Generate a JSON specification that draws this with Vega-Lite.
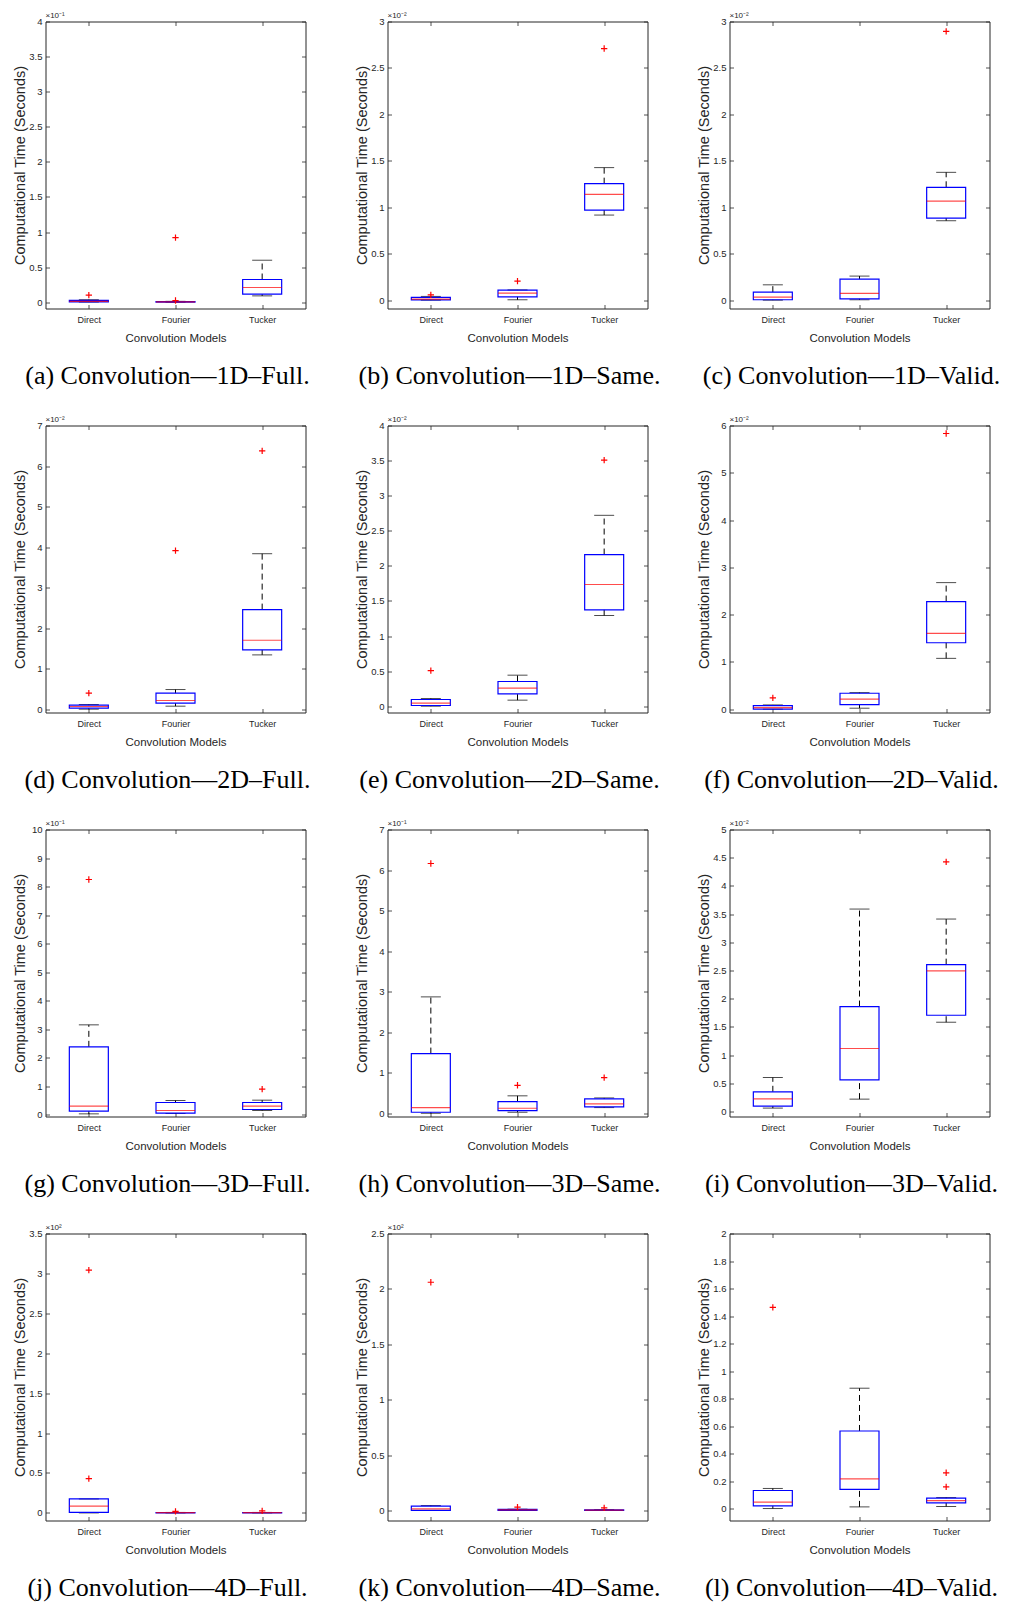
{
 "$schema": "https://vega.github.io/schema/vega-lite/v6.json",
 "padding": {"left": 11.5, "top": 10.5, "right": 5, "bottom": 2},
 "background": "white",
 "datasets": {
  "boxes": [
   {"panel":"a","model":"Direct","lo":0.002,"q1":0.005,"med":0.012,"q3":0.025,"hi":0.035},
   {"panel":"a","model":"Fourier","lo":0,"q1":0.002,"med":0.005,"q3":0.01,"hi":0.012},
   {"panel":"a","model":"Tucker","lo":0.09,"q1":0.114,"med":0.209,"q3":0.323,"hi":0.598},
   {"panel":"b","model":"Direct","lo":0,"q1":0.002,"med":0.01,"q3":0.03,"hi":0.04},
   {"panel":"b","model":"Fourier","lo":0.004,"q1":0.036,"med":0.075,"q3":0.108,"hi":0.11},
   {"panel":"b","model":"Tucker","lo":0.916,"q1":0.97,"med":1.139,"q3":1.254,"hi":1.427},
   {"panel":"c","model":"Direct","lo":0,"q1":0.004,"med":0.032,"q3":0.086,"hi":0.165},
   {"panel":"c","model":"Fourier","lo":0.004,"q1":0.014,"med":0.072,"q3":0.226,"hi":0.259},
   {"panel":"c","model":"Tucker","lo":0.855,"q1":0.884,"med":1.067,"q3":1.215,"hi":1.376},
   {"panel":"d","model":"Direct","lo":0.008,"q1":0.033,"med":0.074,"q3":0.107,"hi":0.123},
   {"panel":"d","model":"Fourier","lo":0.082,"q1":0.156,"med":0.222,"q3":0.402,"hi":0.492},
   {"panel":"d","model":"Tucker","lo":1.346,"q1":1.469,"med":1.707,"q3":2.462,"hi":3.84},
   {"panel":"e","model":"Direct","lo":0,"q1":0.01,"med":0.043,"q3":0.095,"hi":0.109},
   {"panel":"e","model":"Fourier","lo":0.086,"q1":0.176,"med":0.257,"q3":0.352,"hi":0.442},
   {"panel":"e","model":"Tucker","lo":1.292,"q1":1.373,"med":1.734,"q3":2.161,"hi":2.72},
   {"panel":"f","model":"Direct","lo":0,"q1":0.002,"med":0.035,"q3":0.077,"hi":0.09},
   {"panel":"f","model":"Fourier","lo":0.021,"q1":0.098,"med":0.211,"q3":0.337,"hi":0.351},
   {"panel":"f","model":"Tucker","lo":1.075,"q1":1.405,"med":1.602,"q3":2.276,"hi":2.677},
   {"panel":"g","model":"Direct","lo":0.023,"q1":0.117,"med":0.292,"q3":2.374,"hi":3.146},
   {"panel":"g","model":"Fourier","lo":0.035,"q1":0.047,"med":0.14,"q3":0.421,"hi":0.491},
   {"panel":"g","model":"Tucker","lo":0.14,"q1":0.175,"med":0.292,"q3":0.421,"hi":0.503},
   {"panel":"h","model":"Direct","lo":0,"q1":0.025,"med":0.14,"q3":1.472,"hi":2.871},
   {"panel":"h","model":"Fourier","lo":0.025,"q1":0.066,"med":0.123,"q3":0.288,"hi":0.43},
   {"panel":"h","model":"Tucker","lo":0.14,"q1":0.156,"med":0.23,"q3":0.354,"hi":0.378},
   {"panel":"i","model":"Direct","lo":0.059,"q1":0.094,"med":0.224,"q3":0.348,"hi":0.602},
   {"panel":"i","model":"Fourier","lo":0.218,"q1":0.561,"med":1.116,"q3":1.86,"hi":3.589},
   {"panel":"i","model":"Tucker","lo":1.582,"q1":1.706,"med":2.491,"q3":2.603,"hi":3.412},
   {"panel":"j","model":"Direct","lo":0,"q1":0.008,"med":0.084,"q3":0.175,"hi":0.175},
   {"panel":"j","model":"Fourier","lo":0,"q1":0.001,"med":0.003,"q3":0.005,"hi":0.006},
   {"panel":"j","model":"Tucker","lo":0,"q1":0.001,"med":0.003,"q3":0.005,"hi":0.006},
   {"panel":"k","model":"Direct","lo":0,"q1":0.001,"med":0.015,"q3":0.039,"hi":0.045},
   {"panel":"k","model":"Fourier","lo":0,"q1":0.002,"med":0.005,"q3":0.01,"hi":0.012},
   {"panel":"k","model":"Tucker","lo":0,"q1":0.001,"med":0.003,"q3":0.006,"hi":0.008},
   {"panel":"l","model":"Direct","lo":0,"q1":0.019,"med":0.046,"q3":0.131,"hi":0.146},
   {"panel":"l","model":"Fourier","lo":0.012,"q1":0.139,"med":0.216,"q3":0.564,"hi":0.875},
   {"panel":"l","model":"Tucker","lo":0.015,"q1":0.041,"med":0.058,"q3":0.075,"hi":0.08}
  ],
  "outliers": [
   {"panel":"a","model":"Direct","value":0.1},
   {"panel":"a","model":"Fourier","value":0.92},
   {"panel":"a","model":"Fourier","value":0.024},
   {"panel":"b","model":"Direct","value":0.057},
   {"panel":"b","model":"Fourier","value":0.205},
   {"panel":"b","model":"Tucker","value":2.709},
   {"panel":"c","model":"Tucker","value":2.893},
   {"panel":"d","model":"Direct","value":0.402},
   {"panel":"d","model":"Fourier","value":3.914},
   {"panel":"d","model":"Tucker","value":6.376},
   {"panel":"e","model":"Direct","value":0.508},
   {"panel":"e","model":"Tucker","value":3.506},
   {"panel":"f","model":"Direct","value":0.239},
   {"panel":"f","model":"Tucker","value":5.831},
   {"panel":"g","model":"Direct","value":8.245},
   {"panel":"g","model":"Tucker","value":0.889},
   {"panel":"h","model":"Direct","value":6.161},
   {"panel":"h","model":"Fourier","value":0.69},
   {"panel":"h","model":"Tucker","value":0.88},
   {"panel":"i","model":"Tucker","value":4.427},
   {"panel":"j","model":"Direct","value":3.041},
   {"panel":"j","model":"Direct","value":0.43},
   {"panel":"j","model":"Fourier","value":0.02},
   {"panel":"j","model":"Tucker","value":0.025},
   {"panel":"k","model":"Direct","value":2.06},
   {"panel":"k","model":"Fourier","value":0.03},
   {"panel":"k","model":"Tucker","value":0.024},
   {"panel":"l","model":"Direct","value":1.463},
   {"panel":"l","model":"Tucker","value":0.26},
   {"panel":"l","model":"Tucker","value":0.158}
  ],
  "exps": [
   {"panel":"a","exp":"×10⁻¹"},{"panel":"b","exp":"×10⁻²"},{"panel":"c","exp":"×10⁻²"},
   {"panel":"d","exp":"×10⁻²"},{"panel":"e","exp":"×10⁻²"},{"panel":"f","exp":"×10⁻²"},
   {"panel":"g","exp":"×10⁻¹"},{"panel":"h","exp":"×10⁻¹"},{"panel":"i","exp":"×10⁻²"},
   {"panel":"j","exp":"×10²"},{"panel":"k","exp":"×10²"}
  ]
 },
 "columns": 3,
 "bounds": "flush",
 "spacing": {"row": 117, "column": 82},
 "concat": [
  {"width":260,"height":287,"title":{"text":"(a) Convolution—1D–Full."},"data":{"name":"boxes"},"transform":[{"filter":"datum.panel === 'a'"}],
   "layer":[
    {"mark":{"type":"rule","strokeDash":[6,4],"color":"#000"},"encoding":{"x":{"field":"model","type":"nominal","scale":{"type":"point","padding":0.5,"domain":["Direct","Fourier","Tucker"]},"axis":{"orient":"bottom","title":"Convolution Models"}},"y":{"field":"q3","type":"quantitative","scale":{"domain":[-0.09,4],"nice":false,"zero":false},"axis":{"orient":"left","title":"Computational Time (Seconds)","values":[0,0.5,1,1.5,2,2.5,3,3.5,4],"format":"~r"}},"y2":{"field":"hi"}}},
    {"mark":{"type":"rule","strokeDash":[6,4],"color":"#000"},"encoding":{"x":{"field":"model","type":"nominal","axis":{"orient":"top","title":null}},"y":{"field":"lo","type":"quantitative","axis":{"orient":"right","title":null,"values":[0,0.5,1,1.5,2,2.5,3,3.5,4]}},"y2":{"field":"q1"}}},
    {"mark":{"type":"tick","color":"#000","size":20,"thickness":1},"encoding":{"x":{"field":"model","type":"nominal","axis":null},"y":{"field":"hi","type":"quantitative","axis":null}}},
    {"mark":{"type":"tick","color":"#000","size":20,"thickness":1},"encoding":{"x":{"field":"model","type":"nominal","axis":null},"y":{"field":"lo","type":"quantitative","axis":null}}},
    {"mark":{"type":"bar","width":39,"fillOpacity":0,"stroke":"#0000ff","strokeWidth":1.2},"encoding":{"x":{"field":"model","type":"nominal","axis":null},"y":{"field":"q1","type":"quantitative","axis":null},"y2":{"field":"q3"}}},
    {"mark":{"type":"tick","color":"#ff0000","size":39,"thickness":1.2},"encoding":{"x":{"field":"model","type":"nominal","axis":null},"y":{"field":"med","type":"quantitative","axis":null}}},
    {"data":{"name":"outliers"},"transform":[{"filter":"datum.panel === 'a'"}],"mark":{"type":"point","shape":"M-1,0L1,0M0,-1L0,1","filled":false,"color":"#ff0000","strokeWidth":1.2,"size":40,"opacity":1},"encoding":{"x":{"field":"model","type":"nominal","axis":null},"y":{"field":"value","type":"quantitative","axis":null}}},
    {"data":{"name":"exps"},"transform":[{"filter":"datum.panel === 'a'"}],"mark":{"type":"text","align":"left","baseline":"bottom","dy":-2,"fontSize":8,"font":"Liberation Sans","color":"#262626"},"encoding":{"x":{"value":0},"y":{"value":0},"text":{"field":"exp"}}}
   ],
   "resolve":{"axis":{"x":"independent","y":"independent"}}},
  {"width":260,"height":287,"title":{"text":"(b) Convolution—1D–Same."},"data":{"name":"boxes"},"transform":[{"filter":"datum.panel === 'b'"}],
   "layer":[
    {"mark":{"type":"rule","strokeDash":[6,4],"color":"#000"},"encoding":{"x":{"field":"model","type":"nominal","scale":{"type":"point","padding":0.5,"domain":["Direct","Fourier","Tucker"]},"axis":{"orient":"bottom","title":"Convolution Models"}},"y":{"field":"q3","type":"quantitative","scale":{"domain":[-0.09,3],"nice":false,"zero":false},"axis":{"orient":"left","title":"Computational Time (Seconds)","values":[0,0.5,1,1.5,2,2.5,3],"format":"~r"}},"y2":{"field":"hi"}}},
    {"mark":{"type":"rule","strokeDash":[6,4],"color":"#000"},"encoding":{"x":{"field":"model","type":"nominal","axis":{"orient":"top","title":null}},"y":{"field":"lo","type":"quantitative","axis":{"orient":"right","title":null,"values":[0,0.5,1,1.5,2,2.5,3]}},"y2":{"field":"q1"}}},
    {"mark":{"type":"tick","color":"#000","size":20,"thickness":1},"encoding":{"x":{"field":"model","type":"nominal","axis":null},"y":{"field":"hi","type":"quantitative","axis":null}}},
    {"mark":{"type":"tick","color":"#000","size":20,"thickness":1},"encoding":{"x":{"field":"model","type":"nominal","axis":null},"y":{"field":"lo","type":"quantitative","axis":null}}},
    {"mark":{"type":"bar","width":39,"fillOpacity":0,"stroke":"#0000ff","strokeWidth":1.2},"encoding":{"x":{"field":"model","type":"nominal","axis":null},"y":{"field":"q1","type":"quantitative","axis":null},"y2":{"field":"q3"}}},
    {"mark":{"type":"tick","color":"#ff0000","size":39,"thickness":1.2},"encoding":{"x":{"field":"model","type":"nominal","axis":null},"y":{"field":"med","type":"quantitative","axis":null}}},
    {"data":{"name":"outliers"},"transform":[{"filter":"datum.panel === 'b'"}],"mark":{"type":"point","shape":"M-1,0L1,0M0,-1L0,1","filled":false,"color":"#ff0000","strokeWidth":1.2,"size":40,"opacity":1},"encoding":{"x":{"field":"model","type":"nominal","axis":null},"y":{"field":"value","type":"quantitative","axis":null}}},
    {"data":{"name":"exps"},"transform":[{"filter":"datum.panel === 'b'"}],"mark":{"type":"text","align":"left","baseline":"bottom","dy":-2,"fontSize":8,"font":"Liberation Sans","color":"#262626"},"encoding":{"x":{"value":0},"y":{"value":0},"text":{"field":"exp"}}}
   ],
   "resolve":{"axis":{"x":"independent","y":"independent"}}},
  {"width":260,"height":287,"title":{"text":"(c) Convolution—1D–Valid."},"data":{"name":"boxes"},"transform":[{"filter":"datum.panel === 'c'"}],
   "layer":[
    {"mark":{"type":"rule","strokeDash":[6,4],"color":"#000"},"encoding":{"x":{"field":"model","type":"nominal","scale":{"type":"point","padding":0.5,"domain":["Direct","Fourier","Tucker"]},"axis":{"orient":"bottom","title":"Convolution Models"}},"y":{"field":"q3","type":"quantitative","scale":{"domain":[-0.09,3],"nice":false,"zero":false},"axis":{"orient":"left","title":"Computational Time (Seconds)","values":[0,0.5,1,1.5,2,2.5,3],"format":"~r"}},"y2":{"field":"hi"}}},
    {"mark":{"type":"rule","strokeDash":[6,4],"color":"#000"},"encoding":{"x":{"field":"model","type":"nominal","axis":{"orient":"top","title":null}},"y":{"field":"lo","type":"quantitative","axis":{"orient":"right","title":null,"values":[0,0.5,1,1.5,2,2.5,3]}},"y2":{"field":"q1"}}},
    {"mark":{"type":"tick","color":"#000","size":20,"thickness":1},"encoding":{"x":{"field":"model","type":"nominal","axis":null},"y":{"field":"hi","type":"quantitative","axis":null}}},
    {"mark":{"type":"tick","color":"#000","size":20,"thickness":1},"encoding":{"x":{"field":"model","type":"nominal","axis":null},"y":{"field":"lo","type":"quantitative","axis":null}}},
    {"mark":{"type":"bar","width":39,"fillOpacity":0,"stroke":"#0000ff","strokeWidth":1.2},"encoding":{"x":{"field":"model","type":"nominal","axis":null},"y":{"field":"q1","type":"quantitative","axis":null},"y2":{"field":"q3"}}},
    {"mark":{"type":"tick","color":"#ff0000","size":39,"thickness":1.2},"encoding":{"x":{"field":"model","type":"nominal","axis":null},"y":{"field":"med","type":"quantitative","axis":null}}},
    {"data":{"name":"outliers"},"transform":[{"filter":"datum.panel === 'c'"}],"mark":{"type":"point","shape":"M-1,0L1,0M0,-1L0,1","filled":false,"color":"#ff0000","strokeWidth":1.2,"size":40,"opacity":1},"encoding":{"x":{"field":"model","type":"nominal","axis":null},"y":{"field":"value","type":"quantitative","axis":null}}},
    {"data":{"name":"exps"},"transform":[{"filter":"datum.panel === 'c'"}],"mark":{"type":"text","align":"left","baseline":"bottom","dy":-2,"fontSize":8,"font":"Liberation Sans","color":"#262626"},"encoding":{"x":{"value":0},"y":{"value":0},"text":{"field":"exp"}}}
   ],
   "resolve":{"axis":{"x":"independent","y":"independent"}}},
  {"width":260,"height":287,"title":{"text":"(d) Convolution—2D–Full."},"data":{"name":"boxes"},"transform":[{"filter":"datum.panel === 'd'"}],
   "layer":[
    {"mark":{"type":"rule","strokeDash":[6,4],"color":"#000"},"encoding":{"x":{"field":"model","type":"nominal","scale":{"type":"point","padding":0.5,"domain":["Direct","Fourier","Tucker"]},"axis":{"orient":"bottom","title":"Convolution Models"}},"y":{"field":"q3","type":"quantitative","scale":{"domain":[-0.074,7],"nice":false,"zero":false},"axis":{"orient":"left","title":"Computational Time (Seconds)","values":[0,1,2,3,4,5,6,7],"format":"~r"}},"y2":{"field":"hi"}}},
    {"mark":{"type":"rule","strokeDash":[6,4],"color":"#000"},"encoding":{"x":{"field":"model","type":"nominal","axis":{"orient":"top","title":null}},"y":{"field":"lo","type":"quantitative","axis":{"orient":"right","title":null,"values":[0,1,2,3,4,5,6,7]}},"y2":{"field":"q1"}}},
    {"mark":{"type":"tick","color":"#000","size":20,"thickness":1},"encoding":{"x":{"field":"model","type":"nominal","axis":null},"y":{"field":"hi","type":"quantitative","axis":null}}},
    {"mark":{"type":"tick","color":"#000","size":20,"thickness":1},"encoding":{"x":{"field":"model","type":"nominal","axis":null},"y":{"field":"lo","type":"quantitative","axis":null}}},
    {"mark":{"type":"bar","width":39,"fillOpacity":0,"stroke":"#0000ff","strokeWidth":1.2},"encoding":{"x":{"field":"model","type":"nominal","axis":null},"y":{"field":"q1","type":"quantitative","axis":null},"y2":{"field":"q3"}}},
    {"mark":{"type":"tick","color":"#ff0000","size":39,"thickness":1.2},"encoding":{"x":{"field":"model","type":"nominal","axis":null},"y":{"field":"med","type":"quantitative","axis":null}}},
    {"data":{"name":"outliers"},"transform":[{"filter":"datum.panel === 'd'"}],"mark":{"type":"point","shape":"M-1,0L1,0M0,-1L0,1","filled":false,"color":"#ff0000","strokeWidth":1.2,"size":40,"opacity":1},"encoding":{"x":{"field":"model","type":"nominal","axis":null},"y":{"field":"value","type":"quantitative","axis":null}}},
    {"data":{"name":"exps"},"transform":[{"filter":"datum.panel === 'd'"}],"mark":{"type":"text","align":"left","baseline":"bottom","dy":-2,"fontSize":8,"font":"Liberation Sans","color":"#262626"},"encoding":{"x":{"value":0},"y":{"value":0},"text":{"field":"exp"}}}
   ],
   "resolve":{"axis":{"x":"independent","y":"independent"}}},
  {"width":260,"height":287,"title":{"text":"(e) Convolution—2D–Same."},"data":{"name":"boxes"},"transform":[{"filter":"datum.panel === 'e'"}],
   "layer":[
    {"mark":{"type":"rule","strokeDash":[6,4],"color":"#000"},"encoding":{"x":{"field":"model","type":"nominal","scale":{"type":"point","padding":0.5,"domain":["Direct","Fourier","Tucker"]},"axis":{"orient":"bottom","title":"Convolution Models"}},"y":{"field":"q3","type":"quantitative","scale":{"domain":[-0.09,4],"nice":false,"zero":false},"axis":{"orient":"left","title":"Computational Time (Seconds)","values":[0,0.5,1,1.5,2,2.5,3,3.5,4],"format":"~r"}},"y2":{"field":"hi"}}},
    {"mark":{"type":"rule","strokeDash":[6,4],"color":"#000"},"encoding":{"x":{"field":"model","type":"nominal","axis":{"orient":"top","title":null}},"y":{"field":"lo","type":"quantitative","axis":{"orient":"right","title":null,"values":[0,0.5,1,1.5,2,2.5,3,3.5,4]}},"y2":{"field":"q1"}}},
    {"mark":{"type":"tick","color":"#000","size":20,"thickness":1},"encoding":{"x":{"field":"model","type":"nominal","axis":null},"y":{"field":"hi","type":"quantitative","axis":null}}},
    {"mark":{"type":"tick","color":"#000","size":20,"thickness":1},"encoding":{"x":{"field":"model","type":"nominal","axis":null},"y":{"field":"lo","type":"quantitative","axis":null}}},
    {"mark":{"type":"bar","width":39,"fillOpacity":0,"stroke":"#0000ff","strokeWidth":1.2},"encoding":{"x":{"field":"model","type":"nominal","axis":null},"y":{"field":"q1","type":"quantitative","axis":null},"y2":{"field":"q3"}}},
    {"mark":{"type":"tick","color":"#ff0000","size":39,"thickness":1.2},"encoding":{"x":{"field":"model","type":"nominal","axis":null},"y":{"field":"med","type":"quantitative","axis":null}}},
    {"data":{"name":"outliers"},"transform":[{"filter":"datum.panel === 'e'"}],"mark":{"type":"point","shape":"M-1,0L1,0M0,-1L0,1","filled":false,"color":"#ff0000","strokeWidth":1.2,"size":40,"opacity":1},"encoding":{"x":{"field":"model","type":"nominal","axis":null},"y":{"field":"value","type":"quantitative","axis":null}}},
    {"data":{"name":"exps"},"transform":[{"filter":"datum.panel === 'e'"}],"mark":{"type":"text","align":"left","baseline":"bottom","dy":-2,"fontSize":8,"font":"Liberation Sans","color":"#262626"},"encoding":{"x":{"value":0},"y":{"value":0},"text":{"field":"exp"}}}
   ],
   "resolve":{"axis":{"x":"independent","y":"independent"}}},
  {"width":260,"height":287,"title":{"text":"(f) Convolution—2D–Valid."},"data":{"name":"boxes"},"transform":[{"filter":"datum.panel === 'f'"}],
   "layer":[
    {"mark":{"type":"rule","strokeDash":[6,4],"color":"#000"},"encoding":{"x":{"field":"model","type":"nominal","scale":{"type":"point","padding":0.5,"domain":["Direct","Fourier","Tucker"]},"axis":{"orient":"bottom","title":"Convolution Models"}},"y":{"field":"q3","type":"quantitative","scale":{"domain":[-0.07,6],"nice":false,"zero":false},"axis":{"orient":"left","title":"Computational Time (Seconds)","values":[0,1,2,3,4,5,6],"format":"~r"}},"y2":{"field":"hi"}}},
    {"mark":{"type":"rule","strokeDash":[6,4],"color":"#000"},"encoding":{"x":{"field":"model","type":"nominal","axis":{"orient":"top","title":null}},"y":{"field":"lo","type":"quantitative","axis":{"orient":"right","title":null,"values":[0,1,2,3,4,5,6]}},"y2":{"field":"q1"}}},
    {"mark":{"type":"tick","color":"#000","size":20,"thickness":1},"encoding":{"x":{"field":"model","type":"nominal","axis":null},"y":{"field":"hi","type":"quantitative","axis":null}}},
    {"mark":{"type":"tick","color":"#000","size":20,"thickness":1},"encoding":{"x":{"field":"model","type":"nominal","axis":null},"y":{"field":"lo","type":"quantitative","axis":null}}},
    {"mark":{"type":"bar","width":39,"fillOpacity":0,"stroke":"#0000ff","strokeWidth":1.2},"encoding":{"x":{"field":"model","type":"nominal","axis":null},"y":{"field":"q1","type":"quantitative","axis":null},"y2":{"field":"q3"}}},
    {"mark":{"type":"tick","color":"#ff0000","size":39,"thickness":1.2},"encoding":{"x":{"field":"model","type":"nominal","axis":null},"y":{"field":"med","type":"quantitative","axis":null}}},
    {"data":{"name":"outliers"},"transform":[{"filter":"datum.panel === 'f'"}],"mark":{"type":"point","shape":"M-1,0L1,0M0,-1L0,1","filled":false,"color":"#ff0000","strokeWidth":1.2,"size":40,"opacity":1},"encoding":{"x":{"field":"model","type":"nominal","axis":null},"y":{"field":"value","type":"quantitative","axis":null}}},
    {"data":{"name":"exps"},"transform":[{"filter":"datum.panel === 'f'"}],"mark":{"type":"text","align":"left","baseline":"bottom","dy":-2,"fontSize":8,"font":"Liberation Sans","color":"#262626"},"encoding":{"x":{"value":0},"y":{"value":0},"text":{"field":"exp"}}}
   ],
   "resolve":{"axis":{"x":"independent","y":"independent"}}},
  {"width":260,"height":287,"title":{"text":"(g) Convolution—3D–Full."},"data":{"name":"boxes"},"transform":[{"filter":"datum.panel === 'g'"}],
   "layer":[
    {"mark":{"type":"rule","strokeDash":[6,4],"color":"#000"},"encoding":{"x":{"field":"model","type":"nominal","scale":{"type":"point","padding":0.5,"domain":["Direct","Fourier","Tucker"]},"axis":{"orient":"bottom","title":"Convolution Models"}},"y":{"field":"q3","type":"quantitative","scale":{"domain":[-0.07,10],"nice":false,"zero":false},"axis":{"orient":"left","title":"Computational Time (Seconds)","values":[0,1,2,3,4,5,6,7,8,9,10],"format":"~r"}},"y2":{"field":"hi"}}},
    {"mark":{"type":"rule","strokeDash":[6,4],"color":"#000"},"encoding":{"x":{"field":"model","type":"nominal","axis":{"orient":"top","title":null}},"y":{"field":"lo","type":"quantitative","axis":{"orient":"right","title":null,"values":[0,1,2,3,4,5,6,7,8,9,10]}},"y2":{"field":"q1"}}},
    {"mark":{"type":"tick","color":"#000","size":20,"thickness":1},"encoding":{"x":{"field":"model","type":"nominal","axis":null},"y":{"field":"hi","type":"quantitative","axis":null}}},
    {"mark":{"type":"tick","color":"#000","size":20,"thickness":1},"encoding":{"x":{"field":"model","type":"nominal","axis":null},"y":{"field":"lo","type":"quantitative","axis":null}}},
    {"mark":{"type":"bar","width":39,"fillOpacity":0,"stroke":"#0000ff","strokeWidth":1.2},"encoding":{"x":{"field":"model","type":"nominal","axis":null},"y":{"field":"q1","type":"quantitative","axis":null},"y2":{"field":"q3"}}},
    {"mark":{"type":"tick","color":"#ff0000","size":39,"thickness":1.2},"encoding":{"x":{"field":"model","type":"nominal","axis":null},"y":{"field":"med","type":"quantitative","axis":null}}},
    {"data":{"name":"outliers"},"transform":[{"filter":"datum.panel === 'g'"}],"mark":{"type":"point","shape":"M-1,0L1,0M0,-1L0,1","filled":false,"color":"#ff0000","strokeWidth":1.2,"size":40,"opacity":1},"encoding":{"x":{"field":"model","type":"nominal","axis":null},"y":{"field":"value","type":"quantitative","axis":null}}},
    {"data":{"name":"exps"},"transform":[{"filter":"datum.panel === 'g'"}],"mark":{"type":"text","align":"left","baseline":"bottom","dy":-2,"fontSize":8,"font":"Liberation Sans","color":"#262626"},"encoding":{"x":{"value":0},"y":{"value":0},"text":{"field":"exp"}}}
   ],
   "resolve":{"axis":{"x":"independent","y":"independent"}}},
  {"width":260,"height":287,"title":{"text":"(h) Convolution—3D–Same."},"data":{"name":"boxes"},"transform":[{"filter":"datum.panel === 'h'"}],
   "layer":[
    {"mark":{"type":"rule","strokeDash":[6,4],"color":"#000"},"encoding":{"x":{"field":"model","type":"nominal","scale":{"type":"point","padding":0.5,"domain":["Direct","Fourier","Tucker"]},"axis":{"orient":"bottom","title":"Convolution Models"}},"y":{"field":"q3","type":"quantitative","scale":{"domain":[-0.08,7],"nice":false,"zero":false},"axis":{"orient":"left","title":"Computational Time (Seconds)","values":[0,1,2,3,4,5,6,7],"format":"~r"}},"y2":{"field":"hi"}}},
    {"mark":{"type":"rule","strokeDash":[6,4],"color":"#000"},"encoding":{"x":{"field":"model","type":"nominal","axis":{"orient":"top","title":null}},"y":{"field":"lo","type":"quantitative","axis":{"orient":"right","title":null,"values":[0,1,2,3,4,5,6,7]}},"y2":{"field":"q1"}}},
    {"mark":{"type":"tick","color":"#000","size":20,"thickness":1},"encoding":{"x":{"field":"model","type":"nominal","axis":null},"y":{"field":"hi","type":"quantitative","axis":null}}},
    {"mark":{"type":"tick","color":"#000","size":20,"thickness":1},"encoding":{"x":{"field":"model","type":"nominal","axis":null},"y":{"field":"lo","type":"quantitative","axis":null}}},
    {"mark":{"type":"bar","width":39,"fillOpacity":0,"stroke":"#0000ff","strokeWidth":1.2},"encoding":{"x":{"field":"model","type":"nominal","axis":null},"y":{"field":"q1","type":"quantitative","axis":null},"y2":{"field":"q3"}}},
    {"mark":{"type":"tick","color":"#ff0000","size":39,"thickness":1.2},"encoding":{"x":{"field":"model","type":"nominal","axis":null},"y":{"field":"med","type":"quantitative","axis":null}}},
    {"data":{"name":"outliers"},"transform":[{"filter":"datum.panel === 'h'"}],"mark":{"type":"point","shape":"M-1,0L1,0M0,-1L0,1","filled":false,"color":"#ff0000","strokeWidth":1.2,"size":40,"opacity":1},"encoding":{"x":{"field":"model","type":"nominal","axis":null},"y":{"field":"value","type":"quantitative","axis":null}}},
    {"data":{"name":"exps"},"transform":[{"filter":"datum.panel === 'h'"}],"mark":{"type":"text","align":"left","baseline":"bottom","dy":-2,"fontSize":8,"font":"Liberation Sans","color":"#262626"},"encoding":{"x":{"value":0},"y":{"value":0},"text":{"field":"exp"}}}
   ],
   "resolve":{"axis":{"x":"independent","y":"independent"}}},
  {"width":260,"height":287,"title":{"text":"(i) Convolution—3D–Valid."},"data":{"name":"boxes"},"transform":[{"filter":"datum.panel === 'i'"}],
   "layer":[
    {"mark":{"type":"rule","strokeDash":[6,4],"color":"#000"},"encoding":{"x":{"field":"model","type":"nominal","scale":{"type":"point","padding":0.5,"domain":["Direct","Fourier","Tucker"]},"axis":{"orient":"bottom","title":"Convolution Models"}},"y":{"field":"q3","type":"quantitative","scale":{"domain":[-0.09,5],"nice":false,"zero":false},"axis":{"orient":"left","title":"Computational Time (Seconds)","values":[0,0.5,1,1.5,2,2.5,3,3.5,4,4.5,5],"format":"~r"}},"y2":{"field":"hi"}}},
    {"mark":{"type":"rule","strokeDash":[6,4],"color":"#000"},"encoding":{"x":{"field":"model","type":"nominal","axis":{"orient":"top","title":null}},"y":{"field":"lo","type":"quantitative","axis":{"orient":"right","title":null,"values":[0,0.5,1,1.5,2,2.5,3,3.5,4,4.5,5]}},"y2":{"field":"q1"}}},
    {"mark":{"type":"tick","color":"#000","size":20,"thickness":1},"encoding":{"x":{"field":"model","type":"nominal","axis":null},"y":{"field":"hi","type":"quantitative","axis":null}}},
    {"mark":{"type":"tick","color":"#000","size":20,"thickness":1},"encoding":{"x":{"field":"model","type":"nominal","axis":null},"y":{"field":"lo","type":"quantitative","axis":null}}},
    {"mark":{"type":"bar","width":39,"fillOpacity":0,"stroke":"#0000ff","strokeWidth":1.2},"encoding":{"x":{"field":"model","type":"nominal","axis":null},"y":{"field":"q1","type":"quantitative","axis":null},"y2":{"field":"q3"}}},
    {"mark":{"type":"tick","color":"#ff0000","size":39,"thickness":1.2},"encoding":{"x":{"field":"model","type":"nominal","axis":null},"y":{"field":"med","type":"quantitative","axis":null}}},
    {"data":{"name":"outliers"},"transform":[{"filter":"datum.panel === 'i'"}],"mark":{"type":"point","shape":"M-1,0L1,0M0,-1L0,1","filled":false,"color":"#ff0000","strokeWidth":1.2,"size":40,"opacity":1},"encoding":{"x":{"field":"model","type":"nominal","axis":null},"y":{"field":"value","type":"quantitative","axis":null}}},
    {"data":{"name":"exps"},"transform":[{"filter":"datum.panel === 'i'"}],"mark":{"type":"text","align":"left","baseline":"bottom","dy":-2,"fontSize":8,"font":"Liberation Sans","color":"#262626"},"encoding":{"x":{"value":0},"y":{"value":0},"text":{"field":"exp"}}}
   ],
   "resolve":{"axis":{"x":"independent","y":"independent"}}},
  {"width":260,"height":287,"title":{"text":"(j) Convolution—4D–Full."},"data":{"name":"boxes"},"transform":[{"filter":"datum.panel === 'j'"}],
   "layer":[
    {"mark":{"type":"rule","strokeDash":[6,4],"color":"#000"},"encoding":{"x":{"field":"model","type":"nominal","scale":{"type":"point","padding":0.5,"domain":["Direct","Fourier","Tucker"]},"axis":{"orient":"bottom","title":"Convolution Models"}},"y":{"field":"q3","type":"quantitative","scale":{"domain":[-0.095,3.5],"nice":false,"zero":false},"axis":{"orient":"left","title":"Computational Time (Seconds)","values":[0,0.5,1,1.5,2,2.5,3,3.5],"format":"~r"}},"y2":{"field":"hi"}}},
    {"mark":{"type":"rule","strokeDash":[6,4],"color":"#000"},"encoding":{"x":{"field":"model","type":"nominal","axis":{"orient":"top","title":null}},"y":{"field":"lo","type":"quantitative","axis":{"orient":"right","title":null,"values":[0,0.5,1,1.5,2,2.5,3,3.5]}},"y2":{"field":"q1"}}},
    {"mark":{"type":"tick","color":"#000","size":20,"thickness":1},"encoding":{"x":{"field":"model","type":"nominal","axis":null},"y":{"field":"hi","type":"quantitative","axis":null}}},
    {"mark":{"type":"tick","color":"#000","size":20,"thickness":1},"encoding":{"x":{"field":"model","type":"nominal","axis":null},"y":{"field":"lo","type":"quantitative","axis":null}}},
    {"mark":{"type":"bar","width":39,"fillOpacity":0,"stroke":"#0000ff","strokeWidth":1.2},"encoding":{"x":{"field":"model","type":"nominal","axis":null},"y":{"field":"q1","type":"quantitative","axis":null},"y2":{"field":"q3"}}},
    {"mark":{"type":"tick","color":"#ff0000","size":39,"thickness":1.2},"encoding":{"x":{"field":"model","type":"nominal","axis":null},"y":{"field":"med","type":"quantitative","axis":null}}},
    {"data":{"name":"outliers"},"transform":[{"filter":"datum.panel === 'j'"}],"mark":{"type":"point","shape":"M-1,0L1,0M0,-1L0,1","filled":false,"color":"#ff0000","strokeWidth":1.2,"size":40,"opacity":1},"encoding":{"x":{"field":"model","type":"nominal","axis":null},"y":{"field":"value","type":"quantitative","axis":null}}},
    {"data":{"name":"exps"},"transform":[{"filter":"datum.panel === 'j'"}],"mark":{"type":"text","align":"left","baseline":"bottom","dy":-2,"fontSize":8,"font":"Liberation Sans","color":"#262626"},"encoding":{"x":{"value":0},"y":{"value":0},"text":{"field":"exp"}}}
   ],
   "resolve":{"axis":{"x":"independent","y":"independent"}}},
  {"width":260,"height":287,"title":{"text":"(k) Convolution—4D–Same."},"data":{"name":"boxes"},"transform":[{"filter":"datum.panel === 'k'"}],
   "layer":[
    {"mark":{"type":"rule","strokeDash":[6,4],"color":"#000"},"encoding":{"x":{"field":"model","type":"nominal","scale":{"type":"point","padding":0.5,"domain":["Direct","Fourier","Tucker"]},"axis":{"orient":"bottom","title":"Convolution Models"}},"y":{"field":"q3","type":"quantitative","scale":{"domain":[-0.09,2.5],"nice":false,"zero":false},"axis":{"orient":"left","title":"Computational Time (Seconds)","values":[0,0.5,1,1.5,2,2.5],"format":"~r"}},"y2":{"field":"hi"}}},
    {"mark":{"type":"rule","strokeDash":[6,4],"color":"#000"},"encoding":{"x":{"field":"model","type":"nominal","axis":{"orient":"top","title":null}},"y":{"field":"lo","type":"quantitative","axis":{"orient":"right","title":null,"values":[0,0.5,1,1.5,2,2.5]}},"y2":{"field":"q1"}}},
    {"mark":{"type":"tick","color":"#000","size":20,"thickness":1},"encoding":{"x":{"field":"model","type":"nominal","axis":null},"y":{"field":"hi","type":"quantitative","axis":null}}},
    {"mark":{"type":"tick","color":"#000","size":20,"thickness":1},"encoding":{"x":{"field":"model","type":"nominal","axis":null},"y":{"field":"lo","type":"quantitative","axis":null}}},
    {"mark":{"type":"bar","width":39,"fillOpacity":0,"stroke":"#0000ff","strokeWidth":1.2},"encoding":{"x":{"field":"model","type":"nominal","axis":null},"y":{"field":"q1","type":"quantitative","axis":null},"y2":{"field":"q3"}}},
    {"mark":{"type":"tick","color":"#ff0000","size":39,"thickness":1.2},"encoding":{"x":{"field":"model","type":"nominal","axis":null},"y":{"field":"med","type":"quantitative","axis":null}}},
    {"data":{"name":"outliers"},"transform":[{"filter":"datum.panel === 'k'"}],"mark":{"type":"point","shape":"M-1,0L1,0M0,-1L0,1","filled":false,"color":"#ff0000","strokeWidth":1.2,"size":40,"opacity":1},"encoding":{"x":{"field":"model","type":"nominal","axis":null},"y":{"field":"value","type":"quantitative","axis":null}}},
    {"data":{"name":"exps"},"transform":[{"filter":"datum.panel === 'k'"}],"mark":{"type":"text","align":"left","baseline":"bottom","dy":-2,"fontSize":8,"font":"Liberation Sans","color":"#262626"},"encoding":{"x":{"value":0},"y":{"value":0},"text":{"field":"exp"}}}
   ],
   "resolve":{"axis":{"x":"independent","y":"independent"}}},
  {"width":260,"height":287,"title":{"text":"(l) Convolution—4D–Valid."},"data":{"name":"boxes"},"transform":[{"filter":"datum.panel === 'l'"}],
   "layer":[
    {"mark":{"type":"rule","strokeDash":[6,4],"color":"#000"},"encoding":{"x":{"field":"model","type":"nominal","scale":{"type":"point","padding":0.5,"domain":["Direct","Fourier","Tucker"]},"axis":{"orient":"bottom","title":"Convolution Models"}},"y":{"field":"q3","type":"quantitative","scale":{"domain":[-0.087,2],"nice":false,"zero":false},"axis":{"orient":"left","title":"Computational Time (Seconds)","values":[0,0.2,0.4,0.6,0.8,1,1.2,1.4,1.6,1.8,2],"format":"~r"}},"y2":{"field":"hi"}}},
    {"mark":{"type":"rule","strokeDash":[6,4],"color":"#000"},"encoding":{"x":{"field":"model","type":"nominal","axis":{"orient":"top","title":null}},"y":{"field":"lo","type":"quantitative","axis":{"orient":"right","title":null,"values":[0,0.2,0.4,0.6,0.8,1,1.2,1.4,1.6,1.8,2]}},"y2":{"field":"q1"}}},
    {"mark":{"type":"tick","color":"#000","size":20,"thickness":1},"encoding":{"x":{"field":"model","type":"nominal","axis":null},"y":{"field":"hi","type":"quantitative","axis":null}}},
    {"mark":{"type":"tick","color":"#000","size":20,"thickness":1},"encoding":{"x":{"field":"model","type":"nominal","axis":null},"y":{"field":"lo","type":"quantitative","axis":null}}},
    {"mark":{"type":"bar","width":39,"fillOpacity":0,"stroke":"#0000ff","strokeWidth":1.2},"encoding":{"x":{"field":"model","type":"nominal","axis":null},"y":{"field":"q1","type":"quantitative","axis":null},"y2":{"field":"q3"}}},
    {"mark":{"type":"tick","color":"#ff0000","size":39,"thickness":1.2},"encoding":{"x":{"field":"model","type":"nominal","axis":null},"y":{"field":"med","type":"quantitative","axis":null}}},
    {"data":{"name":"outliers"},"transform":[{"filter":"datum.panel === 'l'"}],"mark":{"type":"point","shape":"M-1,0L1,0M0,-1L0,1","filled":false,"color":"#ff0000","strokeWidth":1.2,"size":40,"opacity":1},"encoding":{"x":{"field":"model","type":"nominal","axis":null},"y":{"field":"value","type":"quantitative","axis":null}}}
   ],
   "resolve":{"axis":{"x":"independent","y":"independent"}}}
 ],
 "config": {
  "font": "Liberation Sans",
  "view": {"stroke": "#262626", "strokeWidth": 1},
  "axis": {"domain": false, "grid": false, "tickColor": "#262626", "tickWidth": 0.8, "labelColor": "#262626", "titleColor": "#262626", "labelFont": "Liberation Sans", "titleFontWeight": "normal", "labelFontSize": 9},
  "axisLeft": {"tickSize": -4, "labelPadding": 7.5, "labelFontSize": 9.5, "minExtent": 16, "maxExtent": 16, "titlePadding": 2, "titleFontSize": 14.5, "titleFont": "Liberation Sans"},
  "axisRight": {"tickSize": -4, "labels": false},
  "axisBottom": {"tickSize": -4, "labelPadding": 11, "labelAngle": 0, "titleFontSize": 11.5, "titleFont": "Liberation Sans", "minExtent": 17, "maxExtent": 17, "titlePadding": 6.5},
  "axisTop": {"tickSize": -4, "labels": false},
  "title": {"orient": "bottom", "frame": "group", "font": "Liberation Serif", "fontSize": 26, "fontWeight": "normal", "color": "#000", "anchor": "middle", "dx": -8, "offset": 19}
 }
}
